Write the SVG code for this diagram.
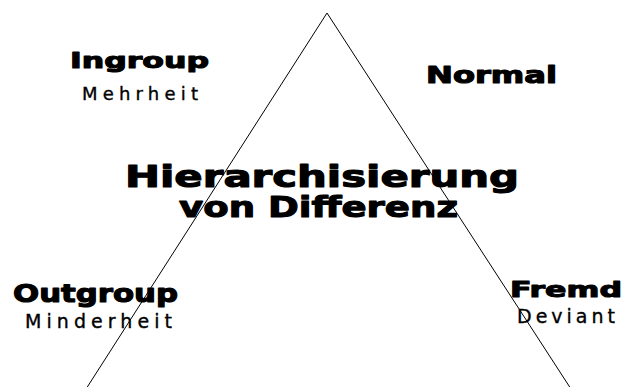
<svg xmlns="http://www.w3.org/2000/svg" width="623" height="387" viewBox="0 0 623 387">
<style>
.b{font-family:"DejaVu Sans","Liberation Sans",sans-serif;font-weight:bold;fill:#000;stroke:#000;stroke-width:1.1;stroke-linejoin:round}
.r{font-family:"DejaVu Sans","Liberation Sans",sans-serif;fill:#000;stroke:#000;stroke-width:0.35}
.ln{fill:none;stroke:#000;stroke-width:1}
</style>
<rect width="623" height="387" fill="#fff"/>
<g id="connectors">
<polyline class="ln" points="86,389 327,13 571,389"/>
</g>
<g id="ingroup">
<text class="b" x="70" y="68" font-size="22" textLength="139" lengthAdjust="spacingAndGlyphs">Ingroup</text>
<text class="r" x="82" y="100" font-size="18" textLength="116" lengthAdjust="spacing">Mehrheit</text>
</g>
<g id="normal">
<text class="b" x="426" y="83" font-size="23" textLength="131" lengthAdjust="spacingAndGlyphs">Normal</text>
</g>
<g id="center">
<text class="b" x="125" y="187" font-size="30" textLength="394" lengthAdjust="spacingAndGlyphs">Hierarchisierung</text>
<text class="b" x="179" y="217" font-size="29" textLength="279" lengthAdjust="spacingAndGlyphs">von Differenz</text>
</g>
<g id="outgroup">
<text class="b" x="13" y="302" font-size="24" textLength="165" lengthAdjust="spacingAndGlyphs">Outgroup</text>
<text class="r" x="25" y="328" font-size="19" textLength="147" lengthAdjust="spacing">Minderheit</text>
</g>
<g id="fremd">
<text class="b" x="510" y="297" font-size="22" textLength="112" lengthAdjust="spacingAndGlyphs">Fremd</text>
<text class="r" x="517" y="323" font-size="19" textLength="98" lengthAdjust="spacing">Deviant</text>
</g>
</svg>
